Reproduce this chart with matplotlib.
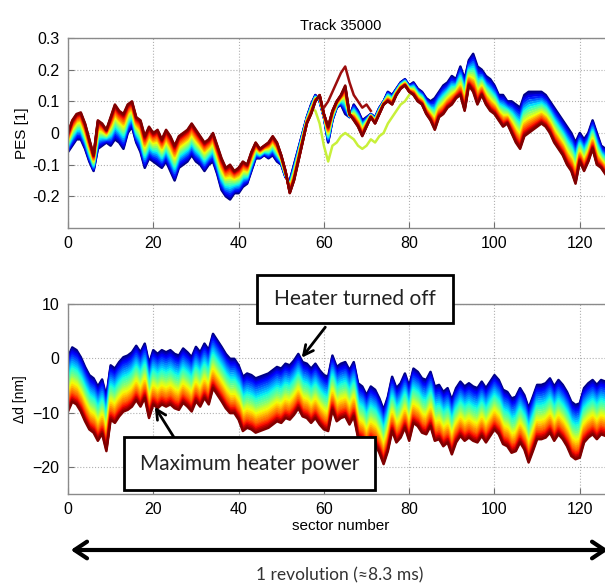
import numpy as np
import matplotlib
matplotlib.use('Agg')
import matplotlib.pyplot as plt
from matplotlib.patches import Rectangle, FancyArrowPatch

# sector index of every sample
sectors = np.arange(127)

# PES [1], top plot: edge curves of the band (blue end and red end)
pes_blue = [-0.06, -0.04, -0.02, -0.02, -0.05, -0.09, -0.12, -0.05, -0.04, -0.03,
            -0.04, -0.02, -0.03, -0.05, 0.0, 0.02, -0.03, -0.06, -0.11, -0.08,
            -0.09, -0.10, -0.11, -0.09, -0.12, -0.15, -0.11, -0.10, -0.09, -0.07,
            -0.09, -0.10, -0.12, -0.10, -0.09, -0.13, -0.18, -0.20, -0.21, -0.19,
            -0.19, -0.17, -0.16, -0.12, -0.08, -0.08, -0.07, -0.08, -0.07, -0.09,
            -0.10, -0.14, -0.15, -0.10, -0.05, 0.0, 0.05, 0.09, 0.12, 0.10,
            0.05, -0.03, 0.04, 0.08, 0.09, 0.06, 0.05, 0.09, 0.07, 0.04,
            0.05, 0.06, 0.05, 0.08, 0.10, 0.13, 0.12, 0.14, 0.16, 0.17,
            0.15, 0.16, 0.14, 0.13, 0.11, 0.10, 0.11, 0.13, 0.15, 0.16,
            0.18, 0.17, 0.21, 0.17, 0.23, 0.25, 0.21, 0.20, 0.18, 0.17,
            0.15, 0.12, 0.12, 0.10, 0.10, 0.09, 0.08, 0.12, 0.13, 0.13,
            0.13, 0.13, 0.12, 0.10, 0.08, 0.06, 0.04, 0.02, 0.0, -0.03,
            0.0, -0.02, 0.0, 0.04, 0.0, -0.04, -0.05]
pes_red = [0.0, 0.04, 0.06, 0.065, 0.03, -0.02, -0.07, 0.04, 0.03, 0.01,
           0.05, 0.09, 0.07, 0.06, 0.09, 0.10, 0.05, 0.04, -0.01, 0.02,
           0.0, 0.01, -0.02, 0.01, -0.01, -0.04, -0.01, 0.0, 0.01, 0.03,
           0.01, -0.01, -0.03, -0.02, 0.0, -0.04, -0.08, -0.11, -0.10, -0.12,
           -0.11, -0.09, -0.10, -0.06, -0.03, -0.05, -0.04, -0.03, -0.01, -0.03,
           -0.07, -0.12, -0.19, -0.15, -0.09, -0.03, 0.03, 0.06, 0.10, 0.12,
           0.06, 0.02, 0.07, 0.10, 0.12, 0.15, 0.06, 0.04, 0.02, -0.01,
           0.02, 0.05, 0.03, 0.06, 0.09, 0.10, 0.09, 0.12, 0.14, 0.15,
           0.13, 0.12, 0.10, 0.09, 0.06, 0.04, 0.01, 0.05, 0.06, 0.08,
           0.09, 0.11, 0.12, 0.07, 0.15, 0.13, 0.09, 0.12, 0.09, 0.07,
           0.06, 0.04, 0.02, 0.03, 0.0, -0.03, -0.05, -0.01, 0.0, 0.01,
           0.02, 0.03, 0.02, 0.0, -0.03, -0.05, -0.07, -0.10, -0.12, -0.16,
           -0.09, -0.12, -0.09, -0.05, -0.10, -0.11, -0.13]
# two traces that leave the band
yg_sectors = np.arange(57, 81)
pes_yellowgreen = [0.08, 0.07, 0.03, -0.04, -0.09, -0.04, -0.03, -0.01, 0.0, -0.01,
                   -0.02, -0.04, -0.05, -0.04, -0.02, -0.03, -0.01, 0.0, 0.03, 0.05,
                   0.07, 0.09, 0.10, 0.12]
dr_sectors = np.arange(60, 72)
pes_darkred = [0.08, 0.10, 0.13, 0.16, 0.19, 0.21, 0.16, 0.12, 0.10, 0.08, 0.09, 0.07]
# position of each trace inside the band, 0 = blue end, 1 = red end
pes_weights = [0.0, 0.05, 0.1, 0.16, 0.22, 0.28, 0.34, 0.4, 0.46, 0.52,
               0.58, 0.64, 0.7, 0.75, 0.8, 0.85, 0.9, 0.94, 0.97, 1.0]

# Δd [nm], bottom plot: upper (heater off) trace
dd_top = [0.2, 2.0, 1.5, 0.2, -1.6, -3.1, -3.7, -5.2, -3.9, -7.1,
          -1.3, -1.9, -0.7, 0.2, 0.5, 1.1, 2.3, 1.1, 2.7, -1.0,
          1.5, 0.8, 1.5, 1.1, 1.5, 0.8, 0.5, 1.8, 1.1, 0.2,
          2.1, 1.1, 2.7, 1.5, 4.5, 3.3, 2.1, 0.8, -0.1, -0.1,
          -1.3, -3.4, -2.8, -3.1, -3.7, -3.4, -3.1, -2.8, -2.2, -1.6,
          -1.9, -1.0, -1.3, -0.4, 0.8, -0.7, -1.0, -1.9, -1.0, -2.2,
          -3.1, -3.4, 0.5, -1.6, -1.0, -0.7, -2.2, -0.7, -4.6, -5.2,
          -6.8, -5.2, -5.8, -7.4, -9.5, -7.1, -3.4, -5.5, -4.6, -2.8,
          -5.2, -1.9, -2.5, -3.7, -4.0, -2.5, -5.2, -4.9, -6.2, -5.5,
          -7.7, -5.5, -4.3, -5.2, -4.6, -5.2, -5.5, -4.3, -5.5, -4.3,
          -3.1, -4.0, -5.8, -6.2, -7.4, -7.1, -5.5, -6.8, -9.2, -7.1,
          -4.9, -4.9, -4.6, -3.7, -5.2, -4.0, -4.9, -6.2, -8.0, -8.6,
          -8.3, -5.5, -4.6, -4.0, -4.9, -4.0, -4.3]
# shift of each trace below the heater-off trace, blue to dark red
dd_offsets = [0.0, -0.3, -0.6, -0.9, -1.2, -1.5, -1.9, -2.3, -2.7, -3.1,
              -3.5, -3.9, -4.3, -4.7, -5.1, -5.5, -5.8, -6.1, -6.5, -6.9,
              -7.3, -7.7, -8.1, -8.5, -8.8, -9.1, -9.4, -9.7, -10.0]

x_ticks = [0, 20, 40, 60, 80, 100, 120]

plt.rcParams['font.family'] = ['Liberation Sans', 'DejaVu Sans']
box_font = ['Lato', 'DejaVu Sans']

W, H = 605, 584
fig = plt.figure(figsize=(W / 100, H / 100), dpi=100)
fig.patch.set_facecolor('white')

px_per_sector = 4.265
x_max = 128
ax1 = fig.add_axes([68 / W, 1 - 228 / H, x_max * px_per_sector / W, 190 / H])
ax2 = fig.add_axes([68 / W, 1 - 494 / H, x_max * px_per_sector / W, 190 / H])

cmap = plt.get_cmap('jet')

# top plot
pb = np.array(pes_blue)
pr = np.array(pes_red)
for i, w in enumerate(pes_weights):
    ax1.plot(sectors, pb + (pr - pb) * w, color=cmap(w), lw=1.8)
    if i == 8:
        ax1.plot(yg_sectors, pes_yellowgreen, color='#c8f03a', lw=1.8)
ax1.plot(dr_sectors, pes_darkred, color='#9c0d0d', lw=1.8)

ax1.set_xlim(0, x_max)
ax1.set_ylim(-0.3, 0.3)
ax1.set_yticks([-0.2, -0.1, 0, 0.1, 0.2, 0.3])
ax1.set_yticklabels(['-0.2', '-0.1', '0', '0.1', '0.2', '0.3'])
ax1.set_xticks(x_ticks)
ax1.set_ylabel('PES [1]', fontsize=11, labelpad=2)
ax1.set_title('Track 35000', fontsize=10.5, pad=6)

# bottom plot
dt = np.array(dd_top)
n = len(dd_offsets)
for i, off in enumerate(dd_offsets):
    ax2.plot(sectors, dt + off, color=cmap(i / (n - 1)), lw=1.8)

ax2.set_xlim(0, x_max)
ax2.set_ylim(-25, 10)
ax2.set_yticks([-20, -10, 0, 10])
ax2.set_xticks(x_ticks)
ax2.set_ylabel('\u0394d [nm]', fontsize=10, labelpad=4)
ax2.set_xlabel('sector number', fontsize=11, labelpad=1)

for ax in (ax1, ax2):
    ax.grid(True, ls=':', color='#b0b0b0', lw=0.8)
    ax.tick_params(direction='in', length=4, labelsize=11.5, color='#707070', pad=6)
    for sp in ax.spines.values():
        sp.set_color('#8a8a8a')
        sp.set_linewidth(1.0)


def px_box(x0, y0, x1, y1, label):
    # box drawn in image pixels, y measured from the top
    fig.add_artist(Rectangle((x0 / W, 1 - y1 / H), (x1 - x0) / W, (y1 - y0) / H,
                             transform=fig.transFigure, facecolor='white',
                             edgecolor='black', lw=2, zorder=5))
    fig.text((x0 + x1) / 2 / W, 1 - (y0 + y1) / 2 / H, label, ha='center', va='center',
             fontsize=15, family=box_font, color='#222222', zorder=6)


px_box(257, 275, 453, 323, 'Heater turned off')
px_box(124, 437, 375, 490, 'Maximum heater power')

arrow = dict(arrowstyle='->,head_length=0.7,head_width=0.35', color='black', lw=2)
ax2.annotate('', xy=(54.4, -0.3), xycoords='data',
             xytext=(327, H - 325), textcoords='figure pixels', arrowprops=arrow, zorder=7)
ax2.annotate('', xy=(20, -8.5), xycoords='data',
             xytext=(175, H - 439), textcoords='figure pixels', arrowprops=arrow, zorder=7)

# one revolution arrow under the plots
fig.add_artist(FancyArrowPatch(
    (68 / W, 1 - 550 / H), (1.01, 1 - 550 / H), transform=fig.transFigure,
    arrowstyle='<->,head_length=6,head_width=4', mutation_scale=1.5, color='black', lw=3))
fig.text(340 / W, 1 - 575 / H, '1 revolution (\u22488.3 ms)', ha='center', va='center',
         fontsize=12.5, family=box_font, color='#333333')

fig.savefig('out.png', dpi=100)
